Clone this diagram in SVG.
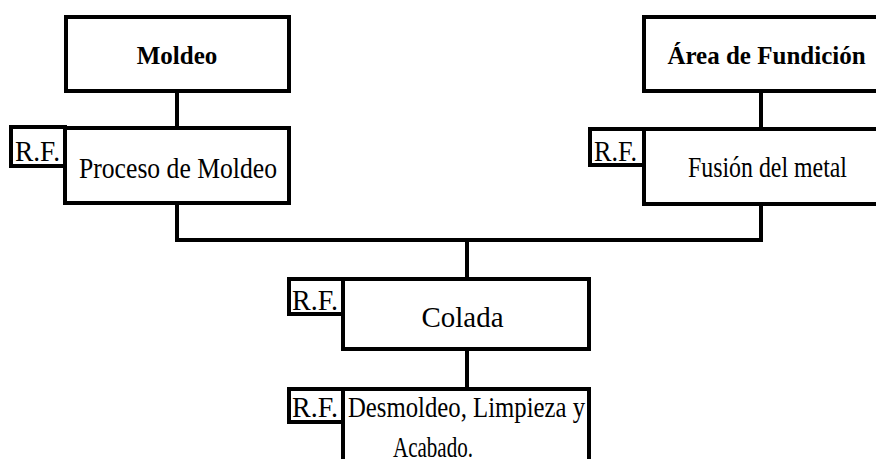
<svg xmlns="http://www.w3.org/2000/svg" width="876" height="459" viewBox="0 0 876 459">
  <style>
    .box { fill: #ffffff; stroke: #000000; stroke-width: 4; }
    .link { fill: none; stroke: #000000; stroke-width: 4; stroke-linecap: square; }
    .t { font-family: 'Liberation Serif', 'DejaVu Serif', serif; font-size: 30px; fill: #000000; }
    .tb { font-family: 'Liberation Serif', 'DejaVu Serif', serif; font-size: 25px; font-weight: bold; fill: #000000; }
    .mid { text-anchor: middle; }
  </style>

  <rect width="876" height="459" fill="#ffffff"/>

  <!-- connectors -->
  <g id="connectors">
    <line class="link" x1="177" y1="91" x2="177" y2="128"/>
    <line class="link" x1="761" y1="91" x2="761" y2="129"/>
    <polyline class="link" points="177,203 177,240 761,240 761,204"/>
    <line class="link" x1="467" y1="240" x2="467" y2="279"/>
    <line class="link" x1="467" y1="349" x2="467" y2="389"/>
  </g>

  <!-- top left header -->
  <g id="moldeo">
    <rect class="box" x="66" y="17" width="223" height="74"/>
    <text class="tb mid" x="177" y="64">Moldeo</text>
  </g>

  <!-- top right header (runs past the right edge) -->
  <g id="area-fundicion">
    <rect class="box" x="644" y="17" width="260" height="74"/>
    <text class="tb mid" x="766.5" y="64">Área de Fundición</text>
  </g>

  <g id="proceso-moldeo">
    <rect class="box" x="11" y="127" width="54" height="39"/>
    <text class="t" x="15" y="161" textLength="45" lengthAdjust="spacingAndGlyphs">R.F.</text>
    <rect class="box" x="65" y="128" width="224" height="75"/>
    <text class="t mid" x="178" y="178" textLength="198" lengthAdjust="spacingAndGlyphs">Proceso de Moldeo</text>
  </g>

  <g id="fusion-metal">
    <rect class="box" x="590" y="129" width="54" height="36"/>
    <text class="t" x="594" y="161" textLength="43" lengthAdjust="spacingAndGlyphs">R.F.</text>
    <rect class="box" x="644" y="129" width="260" height="75"/>
    <text class="t mid" x="767.5" y="177" textLength="159" lengthAdjust="spacingAndGlyphs">Fusión del metal</text>
  </g>

  <g id="colada">
    <rect class="box" x="289" y="279" width="54" height="35"/>
    <text class="t" x="292" y="310" textLength="46" lengthAdjust="spacingAndGlyphs">R.F.</text>
    <rect class="box" x="343" y="279" width="246" height="70"/>
    <text class="t mid" x="462.5" y="327" textLength="82" lengthAdjust="spacingAndGlyphs">Colada</text>
  </g>

  <!-- last step, cut off at the bottom edge -->
  <g id="desmoldeo">
    <rect class="box" x="289" y="389" width="54" height="33"/>
    <text class="t" x="292" y="417" textLength="46" lengthAdjust="spacingAndGlyphs">R.F.</text>
    <rect class="box" x="343" y="389" width="246" height="100"/>
    <text class="t" x="348" y="417" textLength="237" lengthAdjust="spacingAndGlyphs">Desmoldeo, Limpieza y</text>
    <text class="t" x="393" y="457" textLength="80" lengthAdjust="spacingAndGlyphs">Acabado.</text>
  </g>
</svg>
